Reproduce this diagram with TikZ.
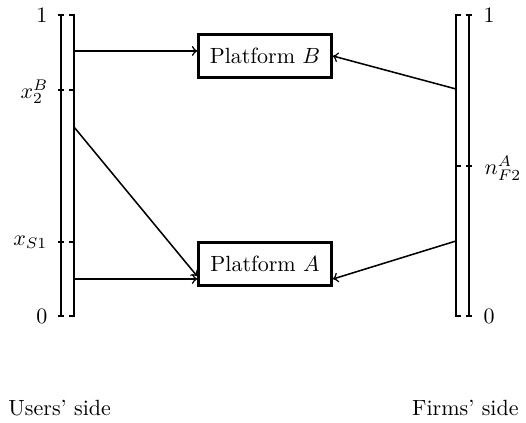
\documentclass[tikz,border=0pt]{standalone}
\begin{document}
\begin{tikzpicture}[x=0.4545pt,y=-0.4545pt,
  axisline/.style={line width=1.3pt},
  brk/.style={line width=1.3pt},
  tickmark/.style={line width=0.6pt},
  arr/.style={line width=0.7pt,->},
  box/.style={draw,line width=1.2pt,minimum width=60.5pt,minimum height=19.8pt,inner sep=0pt},
  lab/.style={inner sep=1pt}]
\useasboundingbox (0,0) rectangle (526,423);
% boxes
\node[box] (B) at (265,56) {Platform $B$};
\node[box] (A) at (265,264) {Platform $A$};
% left axis
\draw[axisline] (61,15) -- (61,316);
\foreach \yy in {15,90,242,316} \draw[tickmark] (58,\yy) -- (64,\yy);
\draw[brk] (69,15) -- (74,15) -- (74,90) -- (69,90);
\draw[brk] (69,90) -- (74,90) -- (74,242) -- (69,242);
\draw[brk] (69,242) -- (74,242) -- (74,316) -- (69,316);
% right axis
\draw[axisline] (469,15) -- (469,316);
\foreach \yy in {15,166,316} \draw[tickmark] (466,\yy) -- (472,\yy);
\draw[brk] (461,15) -- (456,15) -- (456,166) -- (461,166);
\draw[brk] (461,166) -- (456,166) -- (456,316) -- (461,316);
% labels
\node[lab,anchor=east] (l1) at (50,15) {1};
\node[lab,anchor=east] (lx2) at (51,92) {$x_2^B$};
\node[lab,anchor=east] (lxs) at (50,242) {$x_{S1}$};
\node[lab,anchor=east] (l0) at (50,316) {0};
\node[lab,anchor=west] (r1) at (481,15) {1};
\node[lab,anchor=west] (rn) at (482,168) {$n_{F2}^A$};
\node[lab,anchor=west] (r0) at (481,316) {0};
\node[anchor=west,inner sep=0pt] (us) at (8,408) {Users' side};
\node[anchor=east,inner sep=0pt] (fs) at (519,408) {Firms' side};
% connectors
\coordinate (u1) at (74,51);
\coordinate (u2) at (74,127);
\coordinate (u3) at (74,279);
\coordinate (f1) at (456,89);
\coordinate (f2) at (456,241);
\coordinate (a2) at (197,276);
\coordinate (a3) at (333,279);
\draw[arr] (u1) -- (u1 -| B.west);
\draw[arr] (u2) -- (a2);
\draw[arr] (u3) -- (u3 -| A.west);
\draw[arr] (f1) -- (B.east);
\draw[arr] (f2) -- (a3);
\end{tikzpicture}
\end{document}
